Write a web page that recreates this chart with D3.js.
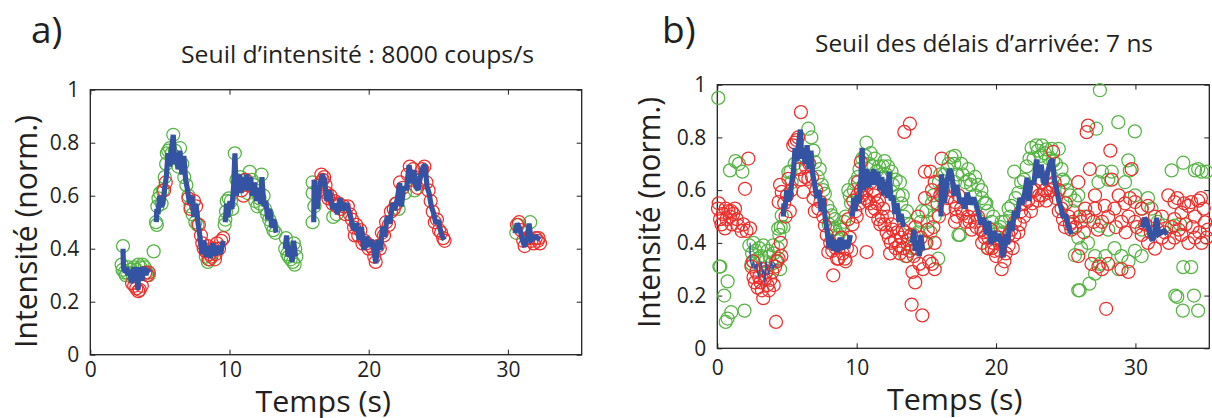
<!DOCTYPE html>
<html><head><meta charset="utf-8">
<script src="https://cdn.jsdelivr.net/npm/d3@7"></script>
<style>
body{margin:0;background:#fff}
svg{display:block}
text{font-family:"Open Sans",sans-serif;fill:#231f20}
</style>
</head><body>
<svg id="c" width="1212" height="418"></svg>
<script>
// ---------- data ----------
const xTicks = [0, 10, 20, 30];
const yTicks = [0, 0.2, 0.4, 0.6, 0.8, 1];
const yTickLabels = ["0", "0.2", "0.4", "0.6", "0.8", "1"];
const xTickLabels = ["0", "10", "20", "30"];
const panelLetters = ["a)", "b)"];
const panelTitles = ["Seuil d\u2019intensit\u00e9 : 8000 coups/s", "Seuil des d\u00e9lais d\u2019arriv\u00e9e: 7 ns"];
const xLabel = "Temps (s)";
const yLabel = "Intensit\u00e9 (norm.)";

// blue trace (null = gap)
const traceT = [2.35,2.38,2.5,2.6,2.7,2.8,2.9,2.97,3.05,3.15,3.25,3.35,3.42,3.5,3.6,3.7,3.8,3.9,4.0,4.1,4.25,
 null,
 4.74,4.78,4.86,4.98,5.10,5.22,5.34,5.46,5.58,5.70,5.82,5.96,6.06,6.18,6.30,6.44,6.58,6.72,6.85,6.96,7.13,7.30,7.44,7.59,7.73,7.88,8.02,8.16,8.33,8.50,8.64,8.81,8.98,9.17,9.36,9.55,
 null,
 9.69,9.79,9.88,10.03,10.17,10.29,10.39,10.48,10.60,10.72,10.84,10.96,11.08,11.22,11.37,11.51,11.66,11.80,11.94,12.09,12.23,12.33,12.47,12.61,12.75,12.90,13.04,13.19,13.35,
 null,
 14.0,14.1,14.2,14.35,14.5,14.6,14.75,
 null,
 16.05,16.08,16.3,16.47,16.66,16.82,17.0,17.18,17.42,17.6,17.75,17.93,18.16,18.40,18.59,18.76,18.93,19.12,19.31,19.48,19.65,19.84,20.03,20.20,20.37,20.51,20.68,20.84,20.99,21.16,21.32,21.51,21.71,21.87,22.04,22.23,22.35,22.52,22.71,22.90,23.07,23.24,23.38,23.55,23.72,23.91,24.05,24.19,24.34,24.50,24.67,24.82,24.98,25.15,25.30,25.44,
 null,
 30.51,30.66,30.85,31.04,31.21,31.38,31.52,31.66,31.85,32.04,32.28];
const traceV = [0.40,0.33,0.31,0.33,0.30,0.32,0.29,0.27,0.31,0.33,0.28,0.30,0.245,0.33,0.30,0.28,0.31,0.33,0.30,0.32,0.31,
 null,
 0.50,0.55,0.53,0.60,0.56,0.57,0.63,0.67,0.76,0.71,0.77,0.83,0.72,0.76,0.70,0.77,0.68,0.75,0.66,0.63,0.57,0.60,0.52,0.57,0.50,0.445,0.38,0.43,0.37,0.41,0.365,0.42,0.375,0.41,0.38,0.43,
 null,
 0.50,0.57,0.52,0.58,0.55,0.63,0.76,0.60,0.63,0.68,0.61,0.67,0.62,0.68,0.62,0.67,0.60,0.65,0.58,0.63,0.57,0.67,0.56,0.58,0.51,0.55,0.48,0.51,0.46,
 null,
 0.40,0.45,0.37,0.41,0.35,0.43,0.37,
 null,
 0.50,0.66,0.55,0.63,0.68,0.66,0.58,0.62,0.55,0.57,0.53,0.59,0.546,0.571,0.54,0.508,0.47,0.495,0.433,0.483,0.395,0.445,0.408,0.433,0.395,0.345,0.433,0.395,0.483,0.445,0.521,0.495,0.571,0.546,0.584,0.647,0.559,0.634,0.622,0.716,0.647,0.697,0.634,0.622,0.672,0.709,0.716,0.634,0.609,0.559,0.533,0.495,0.508,0.47,0.445,0.433,
 null,
 0.458,0.495,0.477,0.433,0.408,0.445,0.495,0.433,0.44,0.445,0.433];

// panel a circles
const aGreen = [[2.35,0.41],[2.25,0.34],[2.32,0.32],[2.45,0.31],[2.55,0.30],[2.65,0.31],[2.75,0.33],[2.9,0.32],[3.05,0.30],[3.15,0.33],[3.3,0.32],[3.45,0.34],[3.6,0.33],[3.75,0.34],[3.9,0.33],[4.05,0.31],[4.2,0.30],[4.55,0.39],
 [4.72,0.50],[4.78,0.49],[4.82,0.56],[4.9,0.59],[5.0,0.61],[5.12,0.57],[5.2,0.62],[5.35,0.67],[5.45,0.72],[5.5,0.76],[5.6,0.77],[5.72,0.78],[5.85,0.76],[5.96,0.83],[6.08,0.77],[6.2,0.74],[6.32,0.71],[6.45,0.78],[6.6,0.72],[6.75,0.67],[6.9,0.64],[7.05,0.60],[7.2,0.56],[7.35,0.53],[7.55,0.50],[7.7,0.49],[8.45,0.35],[8.6,0.36],[8.3,0.37],
 [9.65,0.49],[9.7,0.51],[9.75,0.54],[9.8,0.58],[9.95,0.59],[10.1,0.58],[10.2,0.55],[10.38,0.76],[10.5,0.66],[10.65,0.65],[10.8,0.67],[11.1,0.66],[11.3,0.61],[11.45,0.69],[11.6,0.66],[11.75,0.64],[11.9,0.62],[12.0,0.56],[12.15,0.59],[12.3,0.68],[12.45,0.60],[12.55,0.55],[12.7,0.53],[12.85,0.51],[13.0,0.49],[13.15,0.47],[13.3,0.46],[12.2,0.57],[11.85,0.58],
 [14.0,0.40],[14.05,0.44],[14.15,0.38],[14.25,0.37],[14.4,0.36],[14.55,0.35],[14.62,0.42],[14.72,0.40],[14.8,0.37],[14.68,0.34],
 [15.97,0.65],[15.97,0.61],[15.97,0.50],[16.1,0.56],[17.7,0.53],[17.45,0.52],[22.0,0.57],[22.15,0.55],[22.6,0.61],[23.3,0.62],
 [30.6,0.46],[30.75,0.49],[31.6,0.50]];
const aRed = [[3.0,0.27],[3.15,0.26],[3.3,0.25],[3.45,0.24],[3.55,0.245],[3.7,0.26],[3.95,0.31],[4.1,0.30],[4.2,0.31],
 [5.3,0.62],[5.42,0.65],[7.05,0.59],[7.2,0.55],[7.45,0.58],[7.6,0.56],[7.8,0.49],[7.95,0.45],[8.05,0.42],[8.15,0.40],[8.3,0.39],[8.45,0.41],[8.6,0.38],[8.7,0.37],[8.85,0.40],[9.0,0.38],[9.1,0.42],[9.25,0.40],[9.4,0.43],[9.55,0.44],[8.5,0.36],[8.95,0.36],
 [10.85,0.62],[11.0,0.60],[11.15,0.66],[11.25,0.64],
 [16.6,0.68],[16.7,0.66],[16.8,0.67],[16.9,0.64],[17.0,0.61],[17.1,0.59],[17.25,0.60],[17.4,0.57],[17.55,0.58],[17.7,0.56],[17.85,0.57],[18.0,0.55],[18.2,0.56],[18.35,0.53],[18.5,0.56],[18.65,0.53],[18.8,0.51],[18.95,0.48],[19.1,0.49],[19.25,0.45],[19.4,0.47],[19.55,0.42],[19.7,0.43],[19.85,0.42],[20.0,0.40],[20.15,0.41],[20.3,0.40],[20.5,0.35],[20.65,0.41],[20.8,0.40],[20.95,0.46],[21.1,0.45],[21.25,0.50],[21.45,0.49],[21.6,0.54],[21.8,0.55],[21.95,0.57],[22.25,0.65],[22.45,0.63],[22.8,0.68],[22.95,0.71],[23.1,0.66],[23.2,0.70],[23.35,0.67],[23.5,0.63],[23.7,0.66],[23.85,0.70],[24.0,0.71],[24.15,0.65],[24.3,0.62],[24.45,0.58],[24.6,0.54],[24.75,0.50],[24.9,0.51],[25.05,0.47],[25.2,0.46],[25.35,0.44],[25.45,0.43],[16.4,0.63],[16.55,0.65],[19.0,0.45],[20.4,0.37],
 [30.65,0.49],[30.8,0.50],[30.95,0.47],[31.1,0.43],[31.2,0.41],[31.35,0.44],[31.5,0.44],[31.7,0.43],[31.85,0.42],[32.0,0.44],[32.15,0.43],[32.3,0.42],[32.2,0.44]];

// panel b circles
const bGreen = [[0.07,0.95],[0.91,0.675],[1.3,0.71],[1.55,0.70],[1.8,0.67],[0.15,0.31],[0.22,0.31],[0.74,0.254],[0.5,0.2],[0.74,0.113],[1.0,0.137],[1.95,0.143],[0.6,0.10],
 [2.3,0.39],[2.5,0.36],[2.6,0.33],[2.75,0.37],[2.9,0.34],[3.0,0.38],[3.15,0.35],[3.3,0.39],[3.45,0.33],[3.6,0.37],[3.75,0.35],[3.9,0.32],[4.05,0.36],[4.2,0.33],[4.35,0.38],[4.45,0.43],[4.5,0.30],[2.45,0.32],[3.55,0.29],[4.0,0.39],[2.6,0.40],
 [6.53,0.833],[6.75,0.80],[7.0,0.706],[6.9,0.75],[5.1,0.668],[5.33,0.63],[5.25,0.67],[4.37,0.454],[4.62,0.504],[4.75,0.46],[7.72,0.586],[7.5,0.62],[8.2,0.504],[8.44,0.454],[8.3,0.45],[7.9,0.54],[7.2,0.65],[5.55,0.70],[6.1,0.72],[4.55,0.46],[7.35,0.68],[8.0,0.47],[8.6,0.42],[7.6,0.60],[8.1,0.52],[8.8,0.46],[9.1,0.48],
 [10.7,0.78],[11.3,0.72],[12.0,0.71],[12.5,0.67],[13.1,0.63],[9.9,0.63],[9.4,0.60],[9.2,0.50],[8.44,0.49],[8.7,0.43],[14.0,0.38],[13.5,0.35],[14.4,0.44],[14.9,0.40],[15.85,0.34],[15.6,0.50],[15.1,0.48],[16.1,0.60],[15.9,0.63],[16.8,0.725],[17.3,0.43],[15.4,0.55],[14.7,0.52],[16.6,0.70],[10.4,0.72],[10.9,0.70],[11.0,0.74],[11.6,0.69],[12.25,0.69],[12.8,0.64],[13.3,0.58],[13.6,0.52],[13.8,0.47],[9.0,0.45],[9.6,0.55],[10.1,0.65],[11.8,0.66],[16.3,0.66],[17.0,0.70],[15.3,0.44],[14.2,0.40],
 [9.5,0.58],[9.8,0.60],[10.2,0.68],[10.6,0.73],[11.2,0.69],[11.4,0.67],[11.9,0.69],[12.1,0.66],[12.6,0.62],[13.0,0.58],[13.2,0.55],[13.4,0.50],[14.1,0.43],[14.6,0.48],[15.0,0.52],[15.5,0.58],[16.0,0.66],[16.5,0.68],
 [17.05,0.73],[17.5,0.70],[18.0,0.68],[18.5,0.65],[18.95,0.60],[19.4,0.52],[19.7,0.48],[19.9,0.43],[19.45,0.38],[17.4,0.43],[17.05,0.63],[17.8,0.63],[18.5,0.58],[20.4,0.48],[20.9,0.53],[21.1,0.54],[21.6,0.59],[21.8,0.63],[22.2,0.69],[22.55,0.76],[22.9,0.77],[23.3,0.77],[23.6,0.755],[23.99,0.757],[24.5,0.757],[23.0,0.75],[23.5,0.74],[24.7,0.68],[24.95,0.63],[25.3,0.58],[25.66,0.56],[25.66,0.353],[25.9,0.22],[21.3,0.67],[20.6,0.48],[19.2,0.55],[18.2,0.62],[20.1,0.45],[22.4,0.72],[23.8,0.72],[24.3,0.70],
 [17.2,0.66],[17.6,0.66],[18.1,0.64],[18.7,0.62],[19.0,0.57],[19.3,0.55],[19.8,0.50],[20.3,0.46],[20.5,0.44],[21.0,0.50],[21.4,0.57],[22.0,0.64],[22.7,0.72],[23.2,0.73],[24.1,0.71],[24.8,0.64],[25.1,0.60],[25.5,0.52],
 [27.45,0.979],[28.77,0.858],[29.96,0.823],[27.2,0.833],[29.49,0.713],[32.6,0.675],[33.43,0.704],[34.27,0.675],[34.75,0.67],[35.1,0.67],[34.5,0.68],[33.43,0.308],[34.0,0.308],[32.86,0.2],[33.0,0.195],[33.4,0.143],[34.2,0.2],[34.5,0.143],[26.0,0.22],[26.7,0.245],[27.1,0.283],[27.45,0.32],[25.9,0.58],[26.4,0.5],[27.35,0.63],[27.6,0.67],[28.05,0.64],[28.3,0.67],[29.25,0.63],[29.6,0.675],[29.97,0.58],[30.45,0.53],[30.9,0.57],[31.15,0.53],[26.6,0.40],[26.1,0.38],[25.9,0.42],[28.5,0.38],[29.0,0.35],[29.5,0.33],[29.97,0.37],[30.45,0.35],[28.8,0.30],[27.85,0.35],[27.1,0.35],[28.05,0.45],[27.45,0.465],[31.6,0.48],[32.1,0.465],[32.8,0.465],[30.45,0.45],[33.2,0.47]];
const bRed = [[0.05,0.53],[0.2,0.49],[0.4,0.51],[0.55,0.455],[0.8,0.52],[0.9,0.50],[1.05,0.47],[1.15,0.51],[1.27,0.53],[1.4,0.49],[1.5,0.465],[1.75,0.445],[1.87,0.47],[2.1,0.445],[2.35,0.455],[0.3,0.47],[0.67,0.49],[0.1,0.55],[0.6,0.53],[1.0,0.52],[2.23,0.72],[1.99,0.605],
 [2.45,0.31],[2.6,0.27],[2.7,0.25],[2.8,0.29],[2.9,0.23],[3.0,0.27],[3.1,0.25],[3.2,0.22],[3.3,0.19],[3.4,0.26],[3.5,0.29],[3.6,0.24],[3.7,0.22],[3.8,0.26],[3.95,0.29],[4.05,0.24],[4.15,0.31],[4.3,0.33],[2.55,0.33],[3.25,0.30],[4.21,0.10],[4.4,0.34],[4.55,0.40],[4.6,0.35],
 [6.0,0.896],[5.55,0.78],[5.45,0.77],[5.7,0.79],[5.8,0.80],[4.4,0.555],[4.62,0.593],[4.5,0.62],[5.1,0.643],[5.0,0.58],[4.8,0.55],[5.3,0.60],[6.17,0.593],[6.3,0.65],[6.53,0.643],[6.8,0.65],[6.6,0.70],[7.25,0.53],[7.4,0.555],[7.1,0.60],[7.72,0.466],[7.96,0.365],[8.32,0.277],[6.0,0.64],[6.35,0.69],[5.9,0.68],[7.6,0.50],[7.85,0.43],[8.1,0.40],[8.25,0.37],[4.9,0.50],[5.2,0.52],[6.9,0.57],[7.0,0.52],[8.5,0.38],[8.6,0.34],
 [8.7,0.34],[8.9,0.42],[9.2,0.33],[9.6,0.37],[9.4,0.49],[9.75,0.56],[10.1,0.63],[10.3,0.60],[10.3,0.707],[10.8,0.56],[11.3,0.53],[11.8,0.50],[12.0,0.47],[12.3,0.42],[12.6,0.45],[12.75,0.41],[13.2,0.42],[10.71,0.365],[13.42,0.821],[13.82,0.852],[13.94,0.166],[14.71,0.125],[14.0,0.29],[14.2,0.25],[15.4,0.32],[15.6,0.30],[14.9,0.67],[15.3,0.67],[16.1,0.72],[15.6,0.63],[15.4,0.60],[14.9,0.57],[15.8,0.55],[16.3,0.53],[16.8,0.60],[17.1,0.53],[14.2,0.46],[14.4,0.50],[15.1,0.45],[15.6,0.40],[9.0,0.36],[9.15,0.34],[9.3,0.38],[9.9,0.52],[10.05,0.58],[10.5,0.62],[10.6,0.57],[10.95,0.55],[11.1,0.52],[11.25,0.58],[11.45,0.55],[11.55,0.49],[11.7,0.47],[11.9,0.53],[12.15,0.44],[12.45,0.40],[12.9,0.44],[13.05,0.39],[13.35,0.38],[13.5,0.44],[13.7,0.41],[12.4,0.36],[13.6,0.35],[14.5,0.32],[14.75,0.30],[15.2,0.33],[13.9,0.43],[11.0,0.63],[12.0,0.61],[16.0,0.58],[16.5,0.57],
 [9.5,0.42],[9.7,0.47],[10.0,0.50],[10.2,0.55],[10.4,0.58],[10.7,0.60],[11.2,0.60],[11.6,0.56],[12.2,0.50],[12.5,0.47],[12.8,0.38],[13.1,0.36],[13.3,0.45],[13.8,0.37],[14.1,0.35],[14.3,0.38],[14.6,0.42],[15.0,0.40],[15.5,0.46],[15.9,0.50],[16.2,0.60],[16.6,0.62],
 [24.1,0.745],[24.2,0.63],[23.75,0.59],[23.3,0.58],[22.8,0.60],[22.3,0.56],[21.8,0.52],[21.36,0.48],[20.9,0.43],[20.4,0.40],[20.4,0.30],[20.6,0.33],[19.9,0.37],[19.45,0.42],[18.95,0.45],[18.5,0.48],[18.0,0.50],[17.5,0.53],[17.05,0.555],[17.8,0.48],[18.7,0.50],[19.2,0.42],[19.7,0.38],[20.2,0.42],[21.1,0.45],[22.05,0.55],[22.55,0.60],[23.3,0.63],[23.75,0.65],[24.5,0.60],[24.7,0.53],[25.2,0.50],[25.4,0.45],[24.95,0.46],[24.5,0.52],[17.05,0.48],[18.25,0.45],[21.2,0.38],[19.0,0.40],[20.7,0.36],[21.6,0.44],[22.5,0.52],[23.0,0.56],[23.5,0.60],[24.0,0.62],[25.0,0.55],[25.5,0.48],[17.3,0.58],[18.3,0.53],[19.6,0.45],[20.0,0.35],
 [17.2,0.50],[17.6,0.51],[18.1,0.48],[18.6,0.46],[19.1,0.44],[19.4,0.38],[19.8,0.40],[20.3,0.37],[20.9,0.39],[21.3,0.43],[21.7,0.47],[22.0,0.50],[22.6,0.55],[23.1,0.58],[23.6,0.56],[23.9,0.60],[24.3,0.57],[24.8,0.49],[25.3,0.47],[25.7,0.46],[26.0,0.50],[26.4,0.53],[27.0,0.48],
 [26.5,0.82],[26.6,0.845],[28.2,0.75],[26.73,0.68],[29.73,0.68],[27.9,0.15],[25.9,0.63],[27.1,0.58],[27.8,0.54],[28.3,0.64],[28.8,0.58],[29.25,0.55],[29.6,0.57],[29.97,0.555],[30.45,0.53],[30.9,0.54],[31.4,0.50],[26.1,0.48],[26.6,0.50],[27.1,0.53],[27.6,0.48],[28.05,0.50],[28.5,0.53],[29.0,0.48],[29.5,0.50],[29.97,0.48],[30.45,0.43],[30.9,0.40],[31.4,0.378],[31.9,0.42],[32.4,0.40],[32.8,0.42],[33.3,0.43],[33.8,0.40],[34.27,0.42],[34.75,0.40],[35.2,0.45],[32.36,0.58],[32.8,0.555],[33.3,0.515],[33.8,0.54],[34.0,0.555],[34.5,0.56],[34.9,0.53],[35.0,0.478],[31.9,0.50],[32.8,0.49],[34.27,0.50],[25.9,0.35],[26.85,0.32],[27.6,0.30],[27.35,0.31],[28.05,0.32],[29.0,0.30],[29.5,0.29],[26.3,0.44],[27.3,0.45],[28.6,0.46],[29.3,0.44],[30.1,0.46],[30.7,0.47],[31.1,0.44],[31.6,0.45],[32.1,0.44],[32.6,0.46],[33.1,0.45],[33.6,0.47],[34.1,0.46],[34.6,0.44],[35.1,0.42],[33.0,0.57],[33.5,0.55],[34.7,0.57]];

// ---------- layout ----------
const INK = "#231f20", BLUE = "#3553a3", RED = "#ec2f2b", GREEN = "#55b443";
const panels = [
  {x0:90.3, x1:581.7, yTop:89.7, yBot:354.7, green:aGreen, red:aRed, thinFirst:false, xPad:7.5,
   letter:{x:31, y:43}, title:{x0:181, x1:534, y:62.5},
   ylab:{x:37, yc:231.5, len:233}, xlab:{x0:255.5, x1:391, y:411.5}},
  {x0:717.3, x1:1209.3, yTop:84.7, yBot:348.3, green:bGreen, red:bRed, thinFirst:true, xPad:12,
   letter:{x:662, y:43}, title:{x0:815, x1:1153, y:52},
   ylab:{x:660, yc:212.5, len:231}, xlab:{x0:887, x1:1022.5, y:409.5}}
];
const svg = d3.select("#c");
const trace = traceT.map((t,i)=>[t, traceV[i]]);
const firstGap = traceT.indexOf(null);

panels.forEach((p, pi) => {
  const x = d3.scaleLinear().domain([0, 35.3]).range([p.x0, p.x1]);
  const y = d3.scaleLinear().domain([0, 1]).range([p.yBot, p.yTop]);
  const g = svg.append("g");

  const tickStyle = sel => { sel.select(".domain").remove(); sel.selectAll(".tick line").attr("stroke", INK).attr("stroke-width", 1); };
  g.append("g").attr("transform", `translate(0,${p.yBot})`)
    .call(d3.axisBottom(x).tickValues(xTicks).tickFormat((d,i)=>xTickLabels[i]).tickSizeInner(-5).tickSizeOuter(0).tickPadding(p.xPad))
    .call(tickStyle)
    .call(s => s.selectAll("text").attr("font-size", 21).attr("font-family", "Open Sans").attr("fill", INK));
  g.append("g").attr("transform", `translate(0,${p.yTop})`)
    .call(d3.axisTop(x).tickValues(xTicks).tickFormat("").tickSizeInner(-5).tickSizeOuter(0)).call(tickStyle);
  g.append("g").attr("transform", `translate(${p.x0},0)`)
    .call(d3.axisLeft(y).tickValues(yTicks).tickFormat((d,i)=>yTickLabels[i]).tickSizeInner(-5).tickSizeOuter(0).tickPadding(11))
    .call(tickStyle)
    .call(s => s.selectAll("text").attr("font-size", 21).attr("font-family", "Open Sans").attr("fill", INK));
  g.append("g").attr("transform", `translate(${p.x1},0)`)
    .call(d3.axisRight(y).tickValues(yTicks).tickFormat("").tickSizeInner(-5).tickSizeOuter(0)).call(tickStyle);
  g.append("rect").attr("x", p.x0).attr("y", p.yTop).attr("width", p.x1 - p.x0).attr("height", p.yBot - p.yTop)
    .attr("fill", "none").attr("stroke", INK).attr("stroke-width", 1.3);

  const drawCircles = (data, col) => g.append("g").selectAll("circle").data(data).join("circle")
    .attr("cx", d => x(d[0])).attr("cy", d => y(d[1])).attr("r", 6.5)
    .attr("fill", "none").attr("stroke", col).attr("stroke-width", 1.25);
  drawCircles(p.green, GREEN);
  drawCircles(p.red, RED);

  const line = d3.line().defined(d => d[0] != null && d[1] != null).x(d => x(d[0])).y(d => y(d[1]));
  const thick = sel => sel.attr("fill", "none").attr("stroke", BLUE).attr("stroke-width", 5.2).attr("stroke-linejoin", "miter").attr("stroke-miterlimit", 2);
  if (p.thinFirst) {
    g.append("path").attr("d", line(trace.slice(0, firstGap))).attr("fill", "none").attr("stroke", BLUE).attr("stroke-width", 1.3);
    g.append("path").attr("d", line(trace.slice(firstGap))).call(thick);
  } else {
    g.append("path").attr("d", line(trace)).call(thick);
  }

  g.append("text").attr("x", p.letter.x).attr("y", p.letter.y).attr("font-size", 37).text(panelLetters[pi]);
  g.append("text").attr("x", p.title.x0).attr("y", p.title.y).attr("font-size", 24.5)
    .attr("textLength", p.title.x1 - p.title.x0).attr("lengthAdjust", "spacingAndGlyphs").text(panelTitles[pi]);
  g.append("text").attr("transform", `translate(${p.ylab.x},${p.ylab.yc + p.ylab.len/2}) rotate(-90)`)
    .attr("font-size", 31).attr("textLength", p.ylab.len).attr("lengthAdjust", "spacingAndGlyphs").text(yLabel);
  g.append("text").attr("x", p.xlab.x0).attr("y", p.xlab.y).attr("font-size", 28.5)
    .attr("textLength", p.xlab.x1 - p.xlab.x0).attr("lengthAdjust", "spacingAndGlyphs").text(xLabel);
});
</script>
</body></html>
